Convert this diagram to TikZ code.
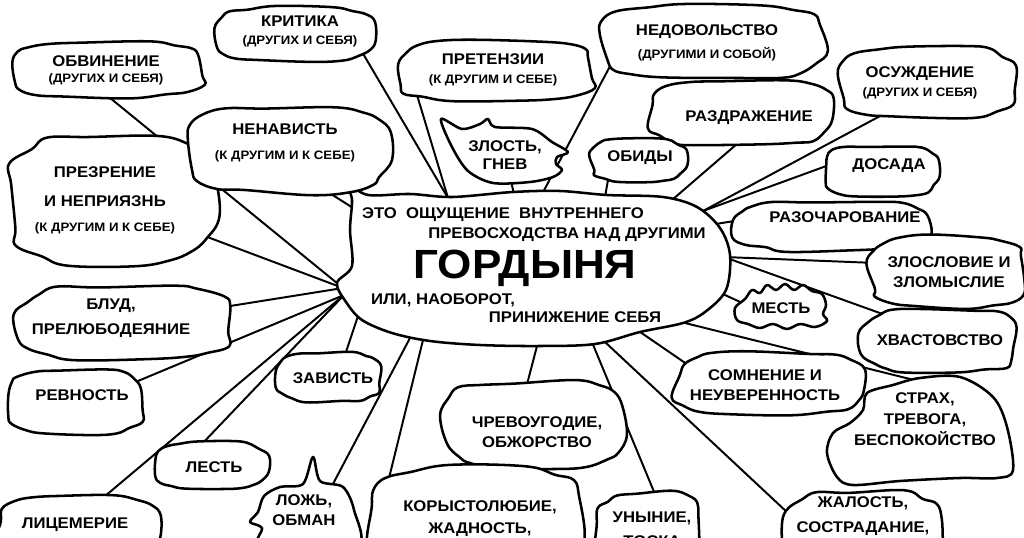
\documentclass[tikz,border=0pt]{standalone}
\usepackage{fontspec}
\setmainfont{Liberation Sans}[FakeStretch=1.08]
\newcommand\subtxt{\fontsize{8.7}{14}\selectfont}
\tikzset{
  conn/.style={line width=1.4pt, shorten <=-7pt, shorten >=-7pt},
  blobline/.style={line width=1.8pt, fill=white, line join=round},
  lab/.style={font=\bfseries\fontsize{11}{14}\selectfont, align=center, inner sep=0pt},
}
\newcommand\blob[5]{\pgfmathsetseed{#5}%
  \draw[blobline] plot[smooth cycle, tension=0.65, domain=5:345, samples=18]
  ({#1+#3*cos(\x)*pow(abs(cos(\x)),-0.4)*(1+0.06*rand)},{#2+#4*sin(\x)*pow(abs(sin(\x)),-0.4)*(1+0.06*rand)});}
\begin{document}
\begin{tikzpicture}[x=0.025cm,y=-0.025cm]
\useasboundingbox (0,0) rectangle (1024,538);
\clip (0,0) rectangle (1024,538);
% ---- connector end points
\coordinate (e-krit) at (365,57);   \coordinate (g-kp) at (448,198);
\coordinate (e-pret) at (417,95);
\coordinate (e-obv) at (104,93);    \coordinate (g-L) at (343,288);
\coordinate (e-nenav) at (312,182); \coordinate (g-nen) at (350,206);
\coordinate (e-prezr) at (210,238);
\coordinate (e-blud) at (224,307);
\coordinate (e-revn) at (138,381);  \coordinate (g-L2) at (344,295);
\coordinate (e-licem) at (98,502);
\coordinate (e-lest) at (200,446);
\coordinate (e-zav) at (344,358);   \coordinate (g-zav) at (356,322);
\coordinate (e-lozh) at (334,482);  \coordinate (g-lozh) at (410,338);
\coordinate (e-kor) at (391,470);   \coordinate (g-kor) at (423,340);
\coordinate (e-chrev) at (525,392); \coordinate (g-chrev) at (537,346);
\coordinate (e-unyn) at (657,499);  \coordinate (g-unyn) at (594,347);
\coordinate (e-zhal) at (789,514);  \coordinate (g-zhal) at (606,343);
\coordinate (e-somn) at (694,369);  \coordinate (g-somn) at (643,334);
\coordinate (e-strah) at (922,382); \coordinate (g-strah) at (685,323);
\coordinate (e-mest) at (749,306);  \coordinate (g-mest) at (714,290);
\coordinate (e-hvast) at (877,312); \coordinate (g-R) at (724,257);
\coordinate (e-zlosl) at (876,263);
\coordinate (e-razoch) at (747,219);\coordinate (g-raz) at (722,223);
\coordinate (e-dos) at (829,165);   \coordinate (g-od) at (703,211);
\coordinate (e-osuzh) at (882,115);
\coordinate (e-razdr) at (745,137); \coordinate (g-razdr) at (672,200);
\coordinate (e-obidy) at (608,180); \coordinate (g-obidy) at (605,197);
\coordinate (e-nedov) at (608,70);  \coordinate (g-nedov) at (541,196);
\coordinate (e-zlost) at (510,177); \coordinate (g-zlost) at (514,194);
% ---- connectors
\draw[conn] (e-krit) -- (g-kp);
\draw[conn] (e-pret) -- (g-kp);
\draw[conn] (e-obv) -- (g-L);
\draw[conn] (e-nenav) -- (g-nen);
\draw[conn] (e-prezr) -- (g-L);
\draw[conn] (e-blud) -- (g-L);
\draw[conn] (e-revn) -- (g-L2);
\draw[conn] (e-licem) -- (g-L2);
\draw[conn] (e-lest) -- (g-L2);
\draw[conn] (e-zav) -- (g-zav);
\draw[conn] (e-lozh) -- (g-lozh);
\draw[conn] (e-kor) -- (g-kor);
\draw[conn] (e-chrev) -- (g-chrev);
\draw[conn] (e-unyn) -- (g-unyn);
\draw[conn] (e-zhal) -- (g-zhal);
\draw[conn] (e-somn) -- (g-somn);
\draw[conn] (e-strah) -- (g-strah);
\draw[conn] (e-mest) -- (g-mest);
\draw[conn] (e-hvast) -- (g-R);
\draw[conn] (e-zlosl) -- (g-R);
\draw[conn] (e-razoch) -- (g-raz);
\draw[conn] (e-dos) -- (g-od);
\draw[conn] (e-osuzh) -- (g-od);
\draw[conn] (e-razdr) -- (g-razdr);
\draw[conn] (e-obidy) -- (g-obidy);
\draw[conn] (e-nedov) -- (g-nedov);
\draw[conn] (e-zlost) -- (g-zlost);
% ---- central blob
\draw[blobline] plot[smooth cycle, tension=0.55] coordinates {
 (348,184) (368,195) (410,194) (452,197) (513,192) (560,191) (607,195) (663,197)
 (697,207) (720,228) (730,255) (726,290) (705,312) (683,323) (640,332) (595,344)
 (540,346) (480,345) (430,341) (392,333) (362,320) (346,302) (337,283) (352,266)
 (350,230) (352,200)};
% ---- blobs
\blob{295}{34}{79}{27}{11}
\blob{107}{69}{98}{28}{12}
\blob{496}{71}{99}{30}{13}
% ЗЛОСТЬ (hand drawn, notch at right)
\draw[blobline] plot[smooth cycle, tension=0.5] coordinates {
 (441,119) (462,129) (480,124) (488,119) (495,127) (532,129) (552,142) (568,152)
 (557,157) (556,164) (562,170) (553,177) (530,182) (493,183) (468,171) (452,147)};
\blob{712}{42}{112}{38}{15}
\blob{928}{82}{88}{36}{16}
\blob{742}{113}{92}{33}{17}
\blob{638}{160}{47}{22}{18}
\blob{880}{171}{57}{25}{19}
\blob{833}{226}{99}{25}{20}
\blob{947}{272}{78}{36}{21}
% МЕСТЬ (hand drawn, wavy)
\draw[blobline] plot[smooth cycle, tension=0.6] coordinates {
 (735,308) (745,299) (752,290) (760,293) (767,285) (776,290) (785,284) (794,290)
 (803,285) (812,291) (822,294) (826,305) (823,314) (827,321) (815,327) (800,324)
 (787,329) (773,324) (760,328) (748,324) (737,320)};
\blob{940}{341}{78}{32}{23}
\blob{769}{383}{94}{31}{24}
% СТРАХ (hand drawn, tail at upper left)
\draw[blobline] plot[smooth cycle, tension=0.55] coordinates {
 (867,393) (893,385) (920,378) (960,377) (993,397) (1007,427) (1013,470)
 (997,478) (960,478) (900,481) (853,485) (837,477) (827,453) (833,433)
 (850,423) (863,410)};
\blob{866}{540}{81}{48}{26}
\blob{649}{535}{53}{43}{27}
\blob{535}{425}{90}{44}{28}
\blob{475}{520}{108}{53}{29}
\blob{329}{377}{52}{25}{30}
% ЛОЖЬ (hand drawn, spike on top)
\draw[blobline] plot[smooth cycle, tension=0.5] coordinates {
 (313,457) (320,481) (343,487) (354,510) (356,548) (262,548) (262,528)
 (250,522) (258,512) (264,496) (280,487) (303,484)};
\blob{211}{466}{56}{24}{32}
\blob{77}{530}{81}{34}{33}
\blob{75}{402}{69}{32}{34}
\blob{124}{323}{107}{37}{35}
\blob{112}{200}{103}{64}{36}
\blob{288}{150}{100}{43}{37}
% ---- central text
\node[lab] (c1) at (503,215) {ЭТО\ \ ОЩУЩЕНИЕ\ \ ВНУТРЕННЕГО};
\node[lab] (c2) at (567,235) {ПРЕВОСХОДСТВА НАД ДРУГИМИ};
\node[lab, font=\bfseries\fontsize{29}{32}\selectfont] (gord) at (525,268) {ГОРДЫНЯ};
\node[lab] (c3) at (443,300) {ИЛИ, НАОБОРОТ,};
\node[lab] (c4) at (575,317) {ПРИНИЖЕНИЕ СЕБЯ};
% ---- labels
\node[lab] (krit) at (300,31) {КРИТИКА\\[-1.2pt]\subtxt (ДРУГИХ И СЕБЯ)};
\node[lab] (obv) at (106,70) {ОБВИНЕНИЕ\\[-2.6pt]\subtxt (ДРУГИХ И СЕБЯ)};
\node[lab] (pret) at (493,70) {ПРЕТЕНЗИИ\\\subtxt (К ДРУГИМ И СЕБЕ)};
\node[lab] (zlost) at (505,155) {ЗЛОСТЬ,\\[-1.2pt]ГНЕВ};
\node[lab] (nedov) at (707,43) {НЕДОВОЛЬСТВО\\[2.4pt]\subtxt (ДРУГИМИ И СОБОЙ)};
\node[lab] (osuzh) at (920,83) {ОСУЖДЕНИЕ\\\subtxt (ДРУГИХ И СЕБЯ)};
\node[lab] (razdr) at (749,118) {РАЗДРАЖЕНИЕ};
\node[lab] (obidy) at (640,158) {ОБИДЫ};
\node[lab] (dosada) at (889,166) {ДОСАДА};
\node[lab] (razoch) at (845,217) {РАЗОЧАРОВАНИЕ};
\node[lab] (zlosl) at (949,272) {ЗЛОСЛОВИЕ И\\ЗЛОМЫСЛИЕ};
\node[lab] (mest) at (781,308) {МЕСТЬ};
\node[lab] (hvast) at (940,340) {ХВАСТОВСТВО};
\node[lab] (somn) at (765,385) {СОМНЕНИЕ И\\НЕУВЕРЕННОСТЬ};
\node[lab] (strah) at (925,419) {СТРАХ,\\[1pt]ТРЕВОГА,\\[1pt]БЕСПОКОЙСТВО};
\node[lab] (zhal) at (863,516) {ЖАЛОСТЬ,\\[3.8pt]СОСТРАДАНИЕ,};
\node[lab] (unyn) at (652,529) {УНЫНИЕ,\\[3pt]ТОСКА};
\node[lab] (chrev) at (537,432) {ЧРЕВОУГОДИЕ,\\ОБЖОРСТВО};
\node[lab] (kor) at (480,519) {КОРЫСТОЛЮБИЕ,\\[1.6pt]ЖАДНОСТЬ,};
\node[lab] (zav) at (333,378) {ЗАВИСТЬ};
\node[lab] (lozh) at (304,510) {ЛОЖЬ,\\ОБМАН};
\node[lab] (lest) at (214,467) {ЛЕСТЬ};
\node[lab] (licem) at (75,525) {ЛИЦЕМЕРИЕ};
\node[lab] (revn) at (82,395) {РЕВНОСТЬ};
\node[lab] (blud) at (111,318) {БЛУД,\\[3.8pt]ПРЕЛЮБОДЕЯНИЕ};
\node[lab] (prezr) at (105,200) {ПРЕЗРЕНИЕ\\[6.6pt]И НЕПРИЯЗНЬ\\[3.8pt]\subtxt (К ДРУГИМ И К СЕБЕ)};
\node[lab] (nenav) at (285,143) {НЕНАВИСТЬ\\[3.8pt]\subtxt (К ДРУГИМ И К СЕБЕ)};
\end{tikzpicture}
\end{document}
